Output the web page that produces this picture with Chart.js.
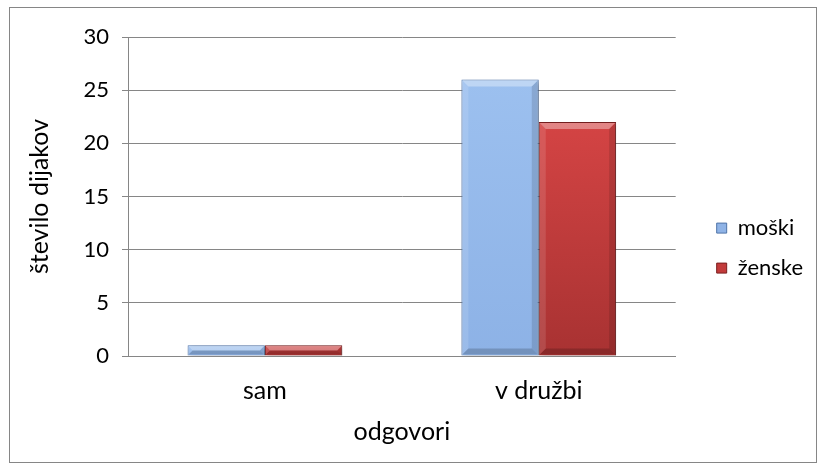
<!DOCTYPE html>
<html>
<head>
<meta charset="utf-8">
<script src="https://cdn.jsdelivr.net/npm/chart.js@4.4.1/dist/chart.umd.min.js"></script>
<style>
  html, body { margin: 0; padding: 0; background: #fff; }
  #wrap { width: 826px; height: 472px; }
</style>
</head>
<body>
<div id="wrap">
  <canvas id="chart" width="826" height="472"></canvas>
</div>
<script>
const categories = ['sam', 'v družbi'];
const moski = [1, 26];
const zenske = [1, 22];
const seriesNames = ['moški', 'ženske'];
const yMax = 30;
const yStep = 5;

const FAMILY = 'Lato, "Open Sans", sans-serif';
const FONT = { family: FAMILY, size: 25 };
const TICK_FONT = { family: FAMILY, size: 22 };
const LEGEND_FONT = { family: FAMILY, size: 22 };
const AXIS_GREY = '#868686';

// vertical shading per bar, computed from the y scale
function barGradient(top, bottom) {
  return (ctx) => {
    const chart = ctx.chart;
    const y = chart.scales.y;
    if (!y || ctx.raw === undefined) return top;
    const y0 = y.getPixelForValue(ctx.raw);
    const y1 = y.getPixelForValue(0);
    if (!isFinite(y0) || !isFinite(y1) || y0 === y1) return top;
    const g = chart.ctx.createLinearGradient(0, y0, 0, y1);
    g.addColorStop(0, top);
    g.addColorStop(1, bottom);
    return g;
  };
}

// outer frame round the whole chart
const framePlugin = {
  id: 'frame',
  beforeDraw(chart) {
    const c = chart.ctx;
    c.save();
    c.strokeStyle = AXIS_GREY;
    c.lineWidth = 1;
    c.strokeRect(9.5, 7.5, 807, 455);
    c.restore();
  }
};

// soft drop shadow under bars, then bevelled edges on top of them
const bevelPlugin = {
  id: 'bevel',
  beforeDatasetsDraw(chart) {
    const c = chart.ctx;
    c.save();
    c.shadowColor = 'rgba(0,0,0,0.35)';
    c.shadowBlur = 5;
    c.shadowOffsetX = 2;
    c.shadowOffsetY = 2;
  },
  afterDatasetsDraw(chart) {
    const c = chart.ctx;
    c.restore();
    c.save();
    chart.data.datasets.forEach((ds, i) => {
      const meta = chart.getDatasetMeta(i);
      meta.data.forEach((el) => {
        const p = el.getProps(['x', 'y', 'base', 'width'], true);
        const l = p.x - p.width / 2 + 1, r = p.x + p.width / 2 - 1;
        const t = Math.min(p.y, p.base) + 1, b = Math.max(p.y, p.base) - 1;
        const d = Math.min(6, (b - t) / 2, (r - l) / 2);
        const quad = (pts, fill) => {
          c.beginPath();
          c.moveTo(pts[0][0], pts[0][1]);
          for (let k = 1; k < pts.length; k++) c.lineTo(pts[k][0], pts[k][1]);
          c.closePath();
          c.fillStyle = fill;
          c.fill();
        };
        quad([[l, t], [r, t], [r - d, t + d], [l + d, t + d]], 'rgba(255,255,255,0.35)');
        quad([[l, t], [l + d, t + d], [l + d, b - d], [l, b]], 'rgba(255,255,255,0.12)');
        quad([[r, t], [r, b], [r - d, b - d], [r - d, t + d]], 'rgba(0,0,0,0.12)');
        quad([[l, b], [l + d, b - d], [r - d, b - d], [r, b]], 'rgba(0,0,0,0.18)');
      });
    });
    c.restore();
  }
};

const legendColors = [
  { fill: '#8fb3e6', stroke: '#4f74a8' },
  { fill: '#c23b3b', stroke: '#7b1f1f' }
];

new Chart(document.getElementById('chart'), {
  type: 'bar',
  data: {
    labels: categories,
    datasets: [
      {
        label: seriesNames[0],
        data: moski,
        backgroundColor: barGradient('#9cc0ef', '#8db2e6'),
        borderColor: '#5b7fb3',
        borderWidth: 1,
        barPercentage: 1,
        categoryPercentage: 0.565
      },
      {
        label: seriesNames[1],
        data: zenske,
        backgroundColor: barGradient('#d44444', '#a83232'),
        borderColor: '#7b2020',
        borderWidth: 1,
        barPercentage: 1,
        categoryPercentage: 0.565
      }
    ]
  },
  options: {
    responsive: false,
    animation: false,
    layout: { padding: { left: 25, top: 37, bottom: 20, right: 13 } },
    plugins: {
      tooltip: { enabled: false },
      legend: {
        position: 'right',
        // empty title only nudges the entries down a little
        title: { display: true, text: ' ', font: { family: FAMILY, size: 6 }, padding: 0 },
        labels: {
          boxWidth: 10,
          boxHeight: 10,
          padding: 18,
          color: '#000',
          font: LEGEND_FONT,
          generateLabels(chart) {
            return chart.data.datasets.map((ds, i) => ({
              text: ds.label,
              fillStyle: legendColors[i].fill,
              strokeStyle: legendColors[i].stroke,
              fontColor: '#000',
              lineWidth: 1,
              datasetIndex: i,
              hidden: !chart.isDatasetVisible(i)
            }));
          }
        }
      }
    },
    scales: {
      x: {
        grid: { display: false, drawTicks: false },
        border: { display: true, color: AXIS_GREY },
        ticks: { color: '#000', font: FONT, padding: 20 },
        title: { display: true, text: 'odgovori', color: '#000', font: FONT, padding: { top: 0, bottom: 5 } },
        afterFit(scale) { scale.height = 96; }
      },
      y: {
        min: 0,
        max: yMax,
        ticks: { stepSize: yStep, color: '#000', font: TICK_FONT, padding: 13 },
        grid: { color: AXIS_GREY, tickLength: 6 },
        border: { color: AXIS_GREY },
        title: { display: true, text: 'število dijakov', color: '#000', font: FONT, padding: { top: 0, bottom: 0 } },
        afterFit(scale) { scale.width = 103; }
      },
      gap: {
        type: 'linear',
        position: 'right',
        display: true,
        grid: { display: false, drawTicks: false },
        border: { display: false },
        ticks: { display: false },
        afterFit(scale) { scale.width = 23; }
      }
    }
  },
  plugins: [framePlugin, bevelPlugin]
});
</script>
</body>
</html>
